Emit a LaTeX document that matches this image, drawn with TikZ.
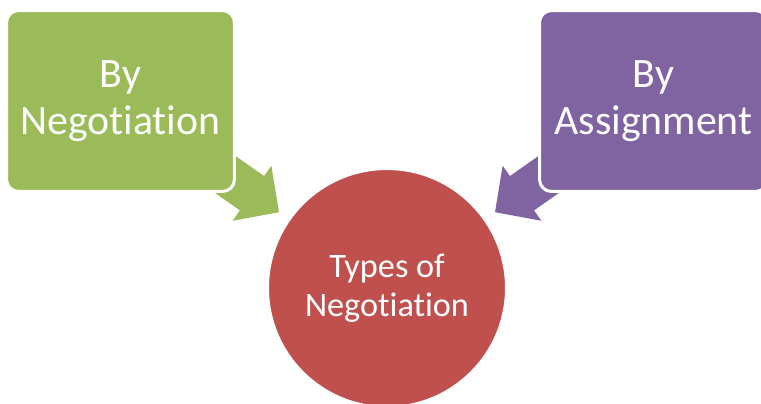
\documentclass[tikz,border=0pt]{standalone}
\usepackage{fontspec}
\setmainfont{Carlito}[Ligatures={NoCommon,NoRare}]
\usepackage{tikz}
\usetikzlibrary{arrows.meta,backgrounds}
\definecolor{negGreen}{HTML}{9BBB59}
\definecolor{negPurple}{HTML}{8064A2}
\definecolor{negRed}{HTML}{C0504D}

\begin{document}
\begin{tikzpicture}[
x=0.02cm, y=-0.02cm,
box/.style={
		rectangle,
		rounded corners=0.24cm,
		draw=white,
		line width=0.06cm,
		minimum width=4.56cm,
		minimum height=3.62cm,
		text=white,
		align=center,
		font=\fontsize{23.8}{27}\selectfont,
		},
hub/.style={
		circle,
		draw=white,
		line width=0.06cm,
		fill=negRed,
		minimum size=4.78cm,
		text=white,
		align=center,
		font=\fontsize{19.5}{22.5}\selectfont,
		},
flow/.style={
		line width=0.84cm,
		-{Triangle[length=0.66cm,width=1.34cm,line width=0.04cm]},
		shorten >=0.22cm,
		shorten <=-0.9cm,
		}
]

\useasboundingbox (0,0) rectangle (761,403);
\clip (0,0) rectangle (761,403);

% the three blocks
\node[box, fill=negGreen] (byneg) at (120.5,101) {By\\Negotiation};
\node[box, fill=negPurple] (byassign) at (653.5,101) {By\\Assignment};
\node[hub] (types) at (387,288) {Types of\\Negotiation};

% block arrows behind the boxes
\begin{scope}[on background layer]
  \draw[flow, negGreen] (byneg) -- (types);
  \draw[flow, negPurple] (byassign) -- (types);
\end{scope}

\end{tikzpicture}
\end{document}
